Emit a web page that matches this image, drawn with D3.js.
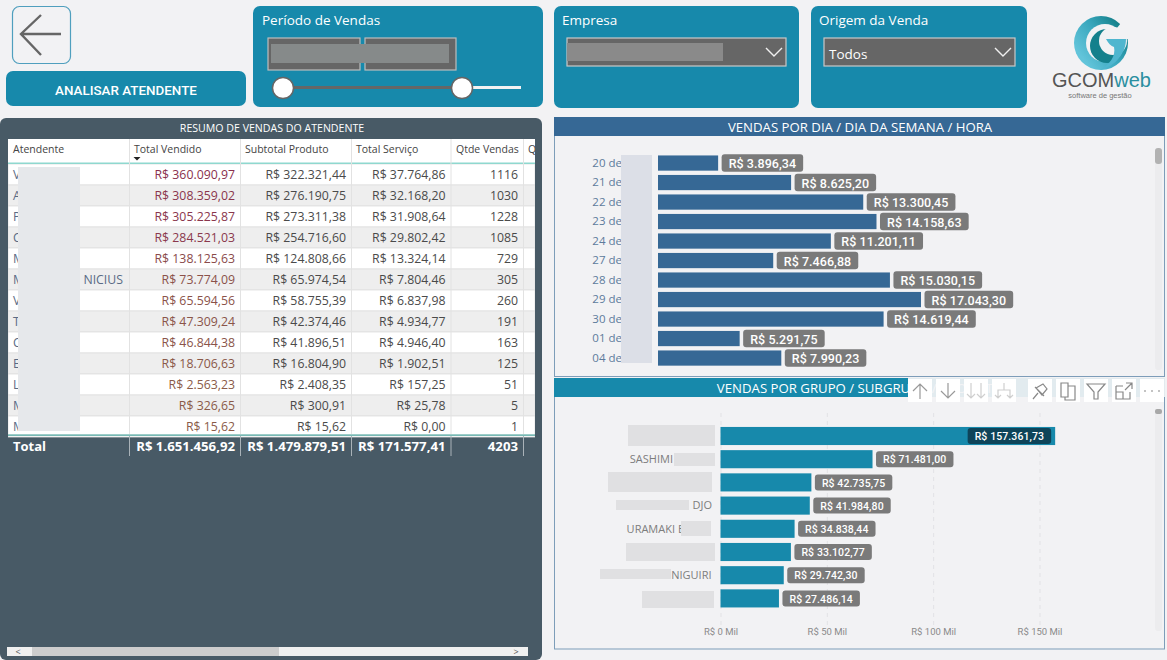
<!DOCTYPE html>
<html>
<head>
<meta charset="utf-8">
<script src="https://cdn.jsdelivr.net/npm/d3@7"></script>
<style>
  html, body { margin: 0; padding: 0; background: #f2f2f4; overflow: hidden; }
  svg { display: block; }
  text { font-family: "Open Sans", "Noto Sans", sans-serif; }
  .din { font-family: "Roboto", sans-serif; font-weight: 500; }
</style>
</head>
<body>
<div id="chart"></div>
<script>
// table
const attendantInitials = ["V", "A", "P", "C", "M", "M", "V", "T", "C", "E", "L", "M", "M"];
const attendantEndings = ["", "", "", "", "", "NICIUS", "", "", "", "", "", "", ""];
const totalVendido = [360090.97, 308359.02, 305225.87, 284521.03, 138125.63, 73774.09, 65594.56, 47309.24, 46844.38, 18706.63, 2563.23, 326.65, 15.62];
const subtotalProduto = [322321.44, 276190.75, 273311.38, 254716.60, 124808.66, 65974.54, 58755.39, 42374.46, 41896.51, 16804.90, 2408.35, 300.91, 15.62];
const totalServico = [37764.86, 32168.20, 31908.64, 29802.42, 13324.14, 7804.46, 6837.98, 4934.77, 4946.40, 1902.51, 157.25, 25.78, 0];
const qtdeVendas = [1116, 1030, 1228, 1085, 729, 305, 260, 191, 163, 125, 51, 5, 1];
const tableHeaders = ["Atendente", "Total Vendido", "Subtotal Produto", "Total Serviço", "Qtde Vendas", "Qtde"];
const tableTotals = [1651456.92, 1479879.51, 171577.41, 4203];

// vendas por dia
const dayLabels = ["20 de", "21 de", "22 de", "23 de", "24 de", "27 de", "28 de", "29 de", "30 de", "01 de", "04 de"];
const dayValues = [3896.34, 8625.20, 13300.45, 14158.63, 11201.11, 7466.88, 15030.15, 17043.30, 14619.44, 5291.75, 7990.23];

// vendas por grupo (part of the names are blurred in the original)
const groupLabels = ["", "SASHIMI", "", "DJO", "URAMAKI E", "", "NIGUIRI", ""];
const groupValues = [157361.73, 71481.00, 42735.75, 41984.80, 34838.44, 33102.77, 29742.30, 27486.14];
const groupTicks = [0, 50000, 100000, 150000];

const width = 1167, height = 660;
const teal = "#1789ab", blue = "#366895", slate = "#485a66", page = "#f2f2f4";

const ptBR = d3.formatLocale({ decimal: ",", thousands: ".", grouping: [3], currency: ["R$ ", ""] });
const money = ptBR.format("$,.2f");

const svg = d3.select("#chart").append("svg")
  .attr("width", width)
  .attr("height", height);

const defs = svg.append("defs");
defs.append("filter").attr("id", "soft")
  .attr("x", "-10%").attr("y", "-10%").attr("width", "120%").attr("height", "120%")
  .append("feGaussianBlur").attr("stdDeviation", 0.6);
defs.append("clipPath").attr("id", "tableClip")
  .append("rect").attr("x", 8).attr("y", 139).attr("width", 527).attr("height", 320);

const logoGrad = defs.append("linearGradient").attr("id", "logoGrad")
  .attr("x1", "10%").attr("y1", "70%").attr("x2", "90%").attr("y2", "10%");
logoGrad.append("stop").attr("offset", "0%").attr("stop-color", "#62c4da");
logoGrad.append("stop").attr("offset", "50%").attr("stop-color", "#38a6bc");
logoGrad.append("stop").attr("offset", "100%").attr("stop-color", "#0f7a82");

const panel = (x, y, w, h, fill, r) => svg.append("rect")
  .attr("x", x).attr("y", y).attr("width", w).attr("height", h)
  .attr("rx", r).attr("fill", fill);

const mask = (x, y, w, h, fill) => svg.append("rect")
  .attr("x", x).attr("y", y).attr("width", w).attr("height", h)
  .attr("fill", fill).attr("filter", "url(#soft)");

const label = (x, y, txt, size, fill, anchor) => svg.append("text")
  .attr("x", x).attr("y", y).attr("dy", "0.35em")
  .attr("text-anchor", anchor || "start")
  .attr("font-size", size).attr("fill", fill).text(txt);

const chevron = (cx, cy) => svg.append("path")
  .attr("d", `M${cx - 8},${cy - 5}L${cx},${cy + 3}L${cx + 8},${cy - 5}`)
  .attr("fill", "none").attr("stroke", "#f0f0f0").attr("stroke-width", 1.4);

// back button and top buttons
svg.append("rect").attr("x", 12.5).attr("y", 6.5).attr("width", 58).attr("height", 57)
  .attr("rx", 7).attr("fill", "none").attr("stroke", "#4f9fbe").attr("stroke-width", 1.2);
svg.append("path").attr("d", "M61,34H21M41,15L21,34L41,55")
  .attr("fill", "none").attr("stroke", "#666").attr("stroke-width", 2.4);

panel(6, 71, 240, 35, teal, 7);
label(126, 90, "ANALISAR ATENDENTE", 13.4, "#fff", "middle").attr("class", "din");

// slicers
panel(253, 6, 290, 101, teal, 7);
label(262, 20, "Período de Vendas", 13.5, "#fff");
[[268, 92], [365, 91]].forEach(b => {
  svg.append("rect").attr("x", b[0]).attr("y", 38).attr("width", b[1]).attr("height", 32)
    .attr("fill", "#666").attr("stroke", "#bdbdbd").attr("stroke-width", 1.2);
});
mask(271, 44, 178, 19, "#868a8a");
svg.append("line").attr("x1", 462).attr("x2", 521).attr("y1", 87.5).attr("y2", 87.5)
  .attr("stroke", "#f2f2f2").attr("stroke-width", 3);
svg.append("line").attr("x1", 283).attr("x2", 462).attr("y1", 87.5).attr("y2", 87.5)
  .attr("stroke", "#666").attr("stroke-width", 3);
[283, 462].forEach(cx => svg.append("circle").attr("cx", cx).attr("cy", 88).attr("r", 10.5)
  .attr("fill", "#fff").attr("stroke", "#666").attr("stroke-width", 1.5));

panel(554, 6, 245, 102, teal, 7);
label(562, 20, "Empresa", 13.5, "#fff");
svg.append("rect").attr("x", 567).attr("y", 38).attr("width", 219).attr("height", 28)
  .attr("fill", "#666").attr("stroke", "#c8c8c8").attr("stroke-width", 1.2);
mask(567, 43, 156, 18, "#8a8a8a");
chevron(774, 53);

panel(811, 6, 216, 102, teal, 7);
label(819, 20, "Origem da Venda", 13.5, "#fff");
svg.append("rect").attr("x", 824).attr("y", 38).attr("width", 191).attr("height", 28)
  .attr("fill", "#666").attr("stroke", "#c8c8c8").attr("stroke-width", 1.2);
label(829, 54, "Todos", 13.5, "#fff");
chevron(1003, 53);

// logo
const logo = svg.append("g");
logo.append("circle").attr("cx", 1101).attr("cy", 43).attr("r", 27).attr("fill", "url(#logoGrad)");
logo.append("circle").attr("cx", 1105).attr("cy", 43).attr("r", 19).attr("fill", page);
logo.append("circle").attr("cx", 1107).attr("cy", 46).attr("r", 17).attr("fill", "#14808c");
logo.append("circle").attr("cx", 1113).attr("cy", 41).attr("r", 14).attr("fill", page);
logo.append("path").attr("d", "M1108,39L1121,23L1132,24V39Z").attr("fill", page);
logo.append("path").attr("d", "M1106,39H1126C1126,53 1116,66 1100,70C1110,64 1116,56 1114,47C1111,46 1108,43 1106,39Z")
  .attr("fill", "#4fb6cf");
svg.append("text").attr("x", 1052).attr("y", 87).attr("font-size", 20)
  .style("font-family", "Liberation Sans").attr("fill", "#555").text("GCOM")
  .append("tspan").attr("fill", "#2a8fa0").text("web");
svg.append("text").attr("x", 1100).attr("y", 98).attr("text-anchor", "middle").attr("font-size", 7.5)
  .style("font-family", "Liberation Sans").attr("fill", "#777").text("software de gestão");

// table panel
panel(0, 118, 542, 542, slate, 6);
label(272, 128, "RESUMO DE VENDAS DO ATENDENTE", 10.6, "#fff", "middle");

const colEdges = [8, 129.5, 240.5, 351.5, 451, 523.5, 535];
const rowTop = 164, rowH = 21;
const rowIndex = d3.range(totalVendido.length);
const rowY = d3.scaleBand().domain(rowIndex).range([rowTop, rowTop + rowH * rowIndex.length]);
const soldColor = d3.scaleLinear().domain([0, 360090]).range(["#8a5a48", "#8a2f4d"]);

const table = svg.append("g").attr("clip-path", "url(#tableClip)");
table.append("rect").attr("x", 8).attr("y", 139).attr("width", 527).attr("height", 296).attr("fill", "#fff");
table.selectAll("rect.row").data(rowIndex).enter().append("rect")
  .attr("class", "row")
  .attr("x", 8).attr("width", 527)
  .attr("y", i => rowY(i)).attr("height", rowH)
  .attr("fill", i => i % 2 ? "#eeeeee" : "#fff")
  .attr("stroke", "#dedede").attr("stroke-width", 0.8);
table.append("rect").attr("x", 8).attr("y", 162.5).attr("width", 527).attr("height", 1.5).attr("fill", "#8fd8cf");
table.append("rect").attr("x", 8).attr("y", 434.5).attr("width", 527).attr("height", 1.2).attr("fill", "#3f9c94");
colEdges.slice(1, 6).forEach(x => {
  table.append("line").attr("x1", x).attr("x2", x).attr("y1", 139).attr("y2", 434)
    .attr("stroke", "#e2e2e2").attr("stroke-width", 1);
  table.append("line").attr("x1", x).attr("x2", x).attr("y1", 436).attr("y2", 456)
    .attr("stroke", "#a9b2b8").attr("stroke-width", 1);
});

const headerX = [13, 134, 245, 356, 456, 528];
table.selectAll("text.head").data(tableHeaders).enter().append("text")
  .attr("class", "head")
  .attr("x", (d, i) => headerX[i]).attr("y", 149).attr("dy", "0.35em")
  .attr("font-size", 10.5).attr("fill", "#444").text(d => d);
table.append("path").attr("d", "M133.5,157h7l-3.5,3.5z").attr("fill", "#222");

const columns = [
  { values: totalVendido, right: 235, fmt: money, color: d => soldColor(d) },
  { values: subtotalProduto, right: 346, fmt: money, color: () => "#4a4a4a" },
  { values: totalServico, right: 445.5, fmt: money, color: () => "#4a4a4a" },
  { values: qtdeVendas, right: 518, fmt: String, color: () => "#4a4a4a" }
];
columns.forEach(col => {
  table.append("g").selectAll("text").data(col.values).enter().append("text")
    .attr("x", col.right).attr("y", (d, i) => rowY(i) + rowH / 2).attr("dy", "0.35em")
    .attr("text-anchor", "end").attr("font-size", 12.3)
    .attr("fill", col.color).text(col.fmt);
});
table.append("g").selectAll("text").data(attendantInitials).enter().append("text")
  .attr("x", 13).attr("y", (d, i) => rowY(i) + rowH / 2).attr("dy", "0.35em")
  .attr("font-size", 12.3).attr("fill", "#5a6b85").text(d => d);
table.append("g").selectAll("text").data(attendantEndings).enter().append("text")
  .attr("x", 123).attr("y", (d, i) => rowY(i) + rowH / 2).attr("dy", "0.35em")
  .attr("text-anchor", "end").attr("font-size", 12.3).attr("fill", "#5a6b85").text(d => d);
mask(18, 167, 62, 264, "#e6e8eb");

label(13, 446, "Total", 13, "#fff").attr("font-weight", 700);
tableTotals.forEach((v, i) => {
  label(columns[i].right, 446, columns[i].fmt(v), 13.2, "#fff", "end").attr("font-weight", 700);
});

// table scrollbar
svg.append("rect").attr("x", 7).attr("y", 647).attr("width", 521).attr("height", 9).attr("fill", "#f0f0f0");
svg.append("rect").attr("x", 32).attr("y", 647).attr("width", 247).attr("height", 9).attr("fill", "#cdcdcd");
label(18, 651.5, "<", 9, "#555", "middle");
label(516, 651.5, ">", 9, "#555", "middle");

// shared bar chart drawing
function drawBars(g, values, y, x, fill, opts) {
  const x0 = x(0);
  g.selectAll("rect.bar").data(values).enter().append("rect")
    .attr("class", "bar")
    .attr("x", x0)
    .attr("y", (d, i) => y(i))
    .attr("width", d => x(d) - x0)
    .attr("height", y.bandwidth())
    .attr("fill", fill);

  const tags = g.selectAll("g.tag").data(values).enter().append("g").attr("class", "tag");
  tags.append("rect");
  tags.append("text")
    .attr("class", "din")
    .attr("dy", "0.36em")
    .attr("font-size", opts.fontSize)
    .attr("letter-spacing", opts.spacing)
    .attr("fill", "#fff")
    .text(money);

  tags.each(function (d, i) {
    const tag = d3.select(this);
    const tw = tag.select("text").node().getComputedTextLength();
    const w = tw + opts.padX * 2;
    const inside = opts.insideAbove !== undefined && d > opts.insideAbove;
    const left = inside ? x(d) - 4 - w : x(d) + 3.5;
    const cy = y(i) + y.bandwidth() / 2;
    tag.select("rect")
      .attr("x", left).attr("y", cy - opts.tagH / 2)
      .attr("width", w).attr("height", opts.tagH)
      .attr("rx", 3)
      .attr("fill", inside ? "#0e4459" : "#7a7a7a");
    tag.select("text").attr("x", left + opts.padX).attr("y", cy + 0.5);
  });
}

// vendas por dia
svg.append("rect").attr("x", 554.5).attr("y", 117.5).attr("width", 610).attr("height", 259)
  .attr("fill", page).attr("stroke", "#7d9db9").attr("stroke-width", 1);
svg.append("rect").attr("x", 554).attr("y", 117).attr("width", 611).attr("height", 19).attr("fill", blue);
label(860, 127, "VENDAS POR DIA / DIA DA SEMANA / HORA", 13.2, "#fff", "middle");

const dayX = d3.scaleLinear().domain([0, d3.max(dayValues)]).range([658, 921]);
const dayY = d3.scaleBand().domain(d3.range(dayValues.length)).range([153.3, 367.8]).paddingInner(0.22).paddingOuter(0.11);

const dayAxis = svg.append("g")
  .attr("transform", "translate(622,0)")
  .call(d3.axisLeft(dayY).tickSize(0).tickPadding(0).tickFormat(i => dayLabels[i]));
dayAxis.select(".domain").remove();
dayAxis.selectAll("text").attr("font-size", 11.5).attr("fill", "#5d7b9c")
  .style("font-family", "Open Sans");
mask(621, 155, 31, 208, "#dcdfe7");

drawBars(svg.append("g"), dayValues, dayY, dayX, blue, { fontSize: 12.5, spacing: 0.05, padX: 7, tagH: 17.5 });

svg.append("rect").attr("x", 1155).attr("y", 148).attr("width", 7).attr("height", 222).attr("rx", 3).attr("fill", "#ececee");
svg.append("rect").attr("x", 1155).attr("y", 148).attr("width", 7).attr("height", 16).attr("rx", 3).attr("fill", "#b2b2b2");

// vendas por grupo
svg.append("rect").attr("x", 554.5).attr("y", 378.5).attr("width", 610).attr("height", 270.5)
  .attr("fill", page).attr("stroke", "#7d9db9").attr("stroke-width", 1);
svg.append("rect").attr("x", 554).attr("y", 378).attr("width", 611).attr("height", 19).attr("fill", teal);
label(860, 388, "VENDAS POR GRUPO / SUBGRUPO / PRODUTO", 13.2, "#fff", "middle");

const groupX = d3.scaleLinear().domain([0, 150000]).range([720.5, 1039.5]);
const groupY = d3.scaleBand().domain(d3.range(groupValues.length)).range([424.4, 610]).paddingInner(0.22).paddingOuter(0.11);

const groupAxis = svg.append("g")
  .attr("transform", "translate(0,625)")
  .call(d3.axisBottom(groupX).tickValues(groupTicks).tickSize(-213).tickPadding(3)
    .tickFormat(d => `R$ ${d / 1000} Mil`));
groupAxis.select(".domain").remove();
groupAxis.selectAll("line").attr("stroke", "#e2e2e5").attr("stroke-dasharray", "4,4");
groupAxis.selectAll("text").attr("font-size", 9.5).attr("fill", "#8a8a8a")
  .style("font-family", "Roboto");

const groupLabelEnd = [715, 673, 712, 712, 684, 715, 711.5, 714];
svg.append("g").selectAll("text").data(groupLabels).enter().append("text")
  .attr("x", (d, i) => groupLabelEnd[i])
  .attr("y", (d, i) => groupY(i) + groupY.bandwidth() / 2)
  .attr("dy", "0.35em").attr("text-anchor", "end")
  .attr("font-size", 11).attr("fill", "#7d7d7d")
  .text(d => d);

[[628, 425, 87, 21], [674, 453, 41, 13], [608, 472, 104, 20], [616, 500, 73, 10],
 [681, 521, 30, 15], [626, 543, 89, 18], [600, 569, 71, 10], [642, 591, 72, 17]]
  .forEach(m => mask(m[0], m[1], m[2], m[3], "#e0e0e2"));

drawBars(svg.append("g"), groupValues, groupY, groupX, teal, { fontSize: 10.5, spacing: 0.1, padX: 7, tagH: 16, insideAbove: 100000 });

svg.append("rect").attr("x", 1155).attr("y", 409).attr("width", 7).attr("height", 222).attr("rx", 3).attr("fill", "#ececee");
svg.append("rect").attr("x", 1155).attr("y", 409).attr("width", 7).attr("height", 5).attr("rx", 2).attr("fill", "#a8a8a8");

// hover toolbar over the group chart
svg.append("rect").attr("x", 908).attr("y", 378).attr("width", 257).attr("height", 19)
  .attr("fill", page).attr("opacity", 0.93);
const toolbarX = [908, 936, 964, 992, 1028, 1056, 1084, 1112, 1140];
const toolbarIcons = [
  { d: "M12,20V5M5,12L12,5L19,12", c: "#999" },
  { d: "M12,4V19M5,12L12,19L19,12", c: "#999" },
  { d: "M7,4V19M3,15L7,19L11,15M17,4V19M13,15L17,19L21,15", c: "#cfcfcf" },
  { d: "M12,4V11M6,19V11H18V19M3,16L6,19L9,16M15,16L18,19L21,16", c: "#cfcfcf" },
  { d: "M5,20L10,14M8,9L15,5L19,10L14,16ZM7,8L16,17", c: "#888" },
  { d: "M5,4H12V18H5ZM12,7H19V21H9V18", c: "#888" },
  { d: "M3,5H21L14,13V20H10V13Z", c: "#888" },
  { d: "M4,7H11M4,7V20H18V13M4,13H11V20M14,4H20V10M20,4L13,11", c: "#888" },
  { d: "M4,12h2M11,12h2M18,12h2", c: "#888" }
];
const toolbar = svg.append("g").selectAll("g").data(toolbarIcons).enter().append("g")
  .attr("transform", (d, i) => `translate(${toolbarX[i]},379)`);
toolbar.append("rect").attr("width", 24).attr("height", 23).attr("fill", "#fff");
toolbar.append("path").attr("d", d => d.d)
  .attr("fill", "none").attr("stroke", d => d.c).attr("stroke-width", 1.2);
</script>
</body>
</html>
